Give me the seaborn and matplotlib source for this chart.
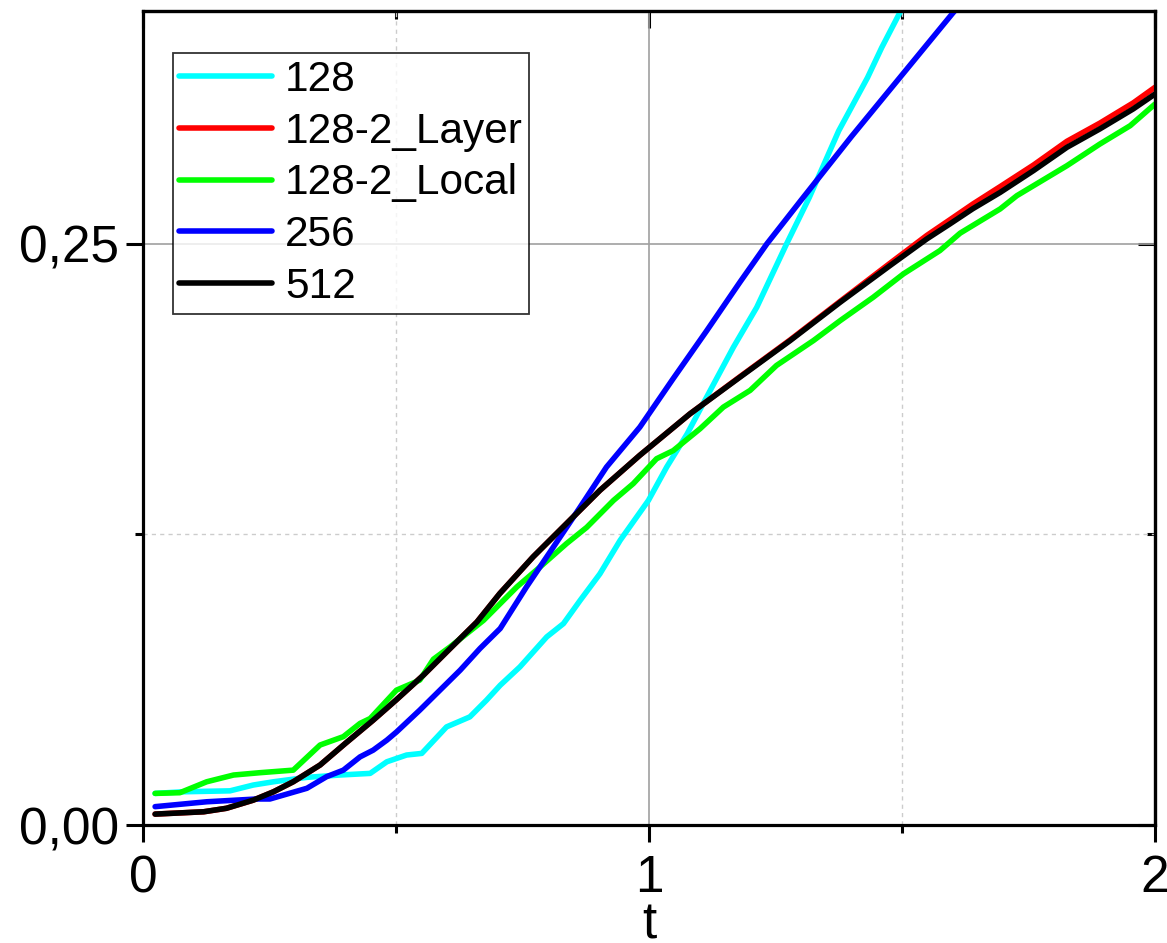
import numpy as np
import pandas as pd
import matplotlib
matplotlib.use("Agg")
import matplotlib.pyplot as plt
from matplotlib.ticker import FixedLocator, FuncFormatter
import seaborn as sns

# --- data ---
t_128 = [0.024, 0.08, 0.172, 0.218, 0.258, 0.324, 0.389, 0.449, 0.482, 0.521, 0.551,
         0.60, 0.646, 0.679, 0.706, 0.745, 0.798, 0.831, 0.864, 0.903, 0.943, 0.999,
         1.035, 1.075, 1.114, 1.167, 1.213, 1.272, 1.317, 1.375, 1.432, 1.46, 1.496, 1.51]
y_128 = [0.0136, 0.0143, 0.0147, 0.0172, 0.0186, 0.0205, 0.0215, 0.0222, 0.0272, 0.0301, 0.0308,
         0.0422, 0.0465, 0.0537, 0.0601, 0.068, 0.0809, 0.0866, 0.0966, 0.108, 0.1224, 0.1396,
         0.1539, 0.168, 0.184, 0.2055, 0.2226, 0.2499, 0.2699, 0.2985, 0.3214, 0.3343, 0.3494, 0.356]

t_512 = [0.024, 0.12, 0.165, 0.218, 0.258, 0.297, 0.35, 0.40, 0.455, 0.50, 0.554, 0.607,
         0.66, 0.705, 0.771, 0.837, 0.903, 0.982, 1.081, 1.18, 1.279, 1.378, 1.476, 1.549,
         1.595, 1.64, 1.694, 1.76, 1.826, 1.891, 1.957, 2.0]
y_512 = [0.0047, 0.0057, 0.0072, 0.0107, 0.0143, 0.0186, 0.0258, 0.0351, 0.0451, 0.0537, 0.0644, 0.0759,
         0.0873, 0.0995, 0.1153, 0.1296, 0.1439, 0.159, 0.1768, 0.1926, 0.2083, 0.2248, 0.2405, 0.252,
         0.2585, 0.265, 0.272, 0.2814, 0.2914, 0.2993, 0.3079, 0.3143]

t_layer = t_512
y_layer = [0.0047, 0.0057, 0.0072, 0.0107, 0.0143, 0.0186, 0.0258, 0.0351, 0.0451, 0.0537, 0.0644, 0.0759,
           0.0873, 0.0995, 0.1153, 0.1296, 0.1439, 0.159, 0.1768, 0.1928, 0.2086, 0.2252, 0.2415, 0.2535,
           0.2603, 0.267, 0.2745, 0.2838, 0.294, 0.3018, 0.3105, 0.3172]

t_local = [0.024, 0.073, 0.126, 0.179, 0.231, 0.297, 0.35, 0.396, 0.429, 0.449, 0.501, 0.547,
           0.574, 0.607, 0.673, 0.739, 0.785, 0.837, 0.877, 0.93, 0.969, 1.015, 1.048, 1.101,
           1.147, 1.20, 1.252, 1.325, 1.378, 1.443, 1.503, 1.575, 1.615, 1.694, 1.727, 1.826,
           1.891, 1.951, 2.0]
y_local = [0.0136, 0.0139, 0.0186, 0.0215, 0.0225, 0.0236, 0.0344, 0.038, 0.0437, 0.0458, 0.058, 0.0623,
           0.0713, 0.0766, 0.088, 0.1024, 0.111, 0.121, 0.128, 0.1396, 0.1468, 0.1575, 0.161, 0.1704,
           0.1797, 0.1869, 0.1976, 0.2083, 0.2169, 0.2269, 0.237, 0.247, 0.2545, 0.2649, 0.2706, 0.2835,
           0.2928, 0.3007, 0.31]

t_256 = [0.024, 0.126, 0.225, 0.251, 0.324, 0.363, 0.396, 0.429, 0.455, 0.482, 0.501, 0.547,
         0.587, 0.627, 0.666, 0.706, 0.758, 0.811, 0.864, 0.916, 0.982, 1.048, 1.114, 1.18,
         1.233, 1.30, 1.40, 1.50, 1.60, 1.62]
y_256 = [0.0079, 0.010, 0.0112, 0.0112, 0.0158, 0.0208, 0.0236, 0.0293, 0.0322, 0.0365, 0.040, 0.0494,
         0.058, 0.0666, 0.0759, 0.0845, 0.1024, 0.1195, 0.1367, 0.1539, 0.1711, 0.192, 0.2125, 0.2335,
         0.2499, 0.2685, 0.296, 0.3225, 0.349, 0.354]

labels = ["128", "128-2_Layer", "128-2_Local", "256", "512"]
colors = ["#00FFFF", "#FF0000", "#00FF00", "#0000FF", "#000000"]

series = [(t_128, y_128), (t_layer, y_layer), (t_local, y_local), (t_256, y_256), (t_512, y_512)]

sns.set_style("ticks")
plt.rcParams['font.family'] = ['Liberation Sans', 'DejaVu Sans']
plt.rcParams['text.color'] = 'black'
plt.rcParams['axes.labelcolor'] = 'black'
plt.rcParams['xtick.color'] = 'black'
plt.rcParams['ytick.color'] = 'black'

fig = plt.figure(figsize=(11.67, 9.43), dpi=100)
ax = fig.add_axes([0.1225, 0.1251, 0.8672, 0.8632])

for (tt, yy), lab, col in zip(series, labels, colors):
    sns.lineplot(x=tt, y=yy, ax=ax, color=col, label=lab, linewidth=4.0,
                 sort=False, legend=False)

ax.set_xlim(0, 2)
ax.set_ylim(0, 0.35)

# grid: solid at majors, dotted at minors
ax.xaxis.set_major_locator(FixedLocator([0, 1, 2]))
ax.xaxis.set_minor_locator(FixedLocator([0.5, 1.5]))
ax.yaxis.set_major_locator(FixedLocator([0, 0.25]))
ax.yaxis.set_minor_locator(FixedLocator([0.125]))
ax.yaxis.set_major_formatter(FuncFormatter(lambda v, p: f"{v:.2f}".replace(".", ",")))
ax.grid(which='major', color='#a0a0a0', lw=1.2, ls='-')
ax.grid(which='minor', color='#cccccc', lw=1.0, ls=(0, (3, 3)))
ax.set_axisbelow(True)

ax.tick_params(which='major', direction='out', length=12, width=2.2, labelsize=37)
ax.tick_params(which='minor', direction='out', length=6, width=2.2)
ax.tick_params(axis='x', which='major', pad=9)
ax.tick_params(axis='y', which='major', pad=5)
for s in ax.spines.values():
    s.set_linewidth(2.3)
    s.set_color('black')

# inward ticks on top and right
top = ax.secondary_xaxis('top')
top.xaxis.set_major_locator(FixedLocator([0, 1, 2]))
top.xaxis.set_minor_locator(FixedLocator([0.5, 1.5]))
top.tick_params(which='major', direction='in', length=12, width=2.2, labeltop=False)
top.tick_params(which='minor', direction='in', length=6, width=2.2)
top.spines['top'].set_linewidth(2.3)
right = ax.secondary_yaxis('right')
right.yaxis.set_major_locator(FixedLocator([0, 0.25]))
right.yaxis.set_minor_locator(FixedLocator([0.125]))
right.tick_params(which='major', direction='in', length=12, width=2.2, labelright=False)
right.tick_params(which='minor', direction='in', length=6, width=2.2)
right.spines['right'].set_linewidth(2.3)

ax.set_xlabel("t", fontsize=37, labelpad=-2)
ax.set_ylabel("")

leg = ax.legend(loc='upper left', bbox_to_anchor=(0.0296, 0.948), borderaxespad=0,
                fontsize=30.5, frameon=True, fancybox=False, handlelength=2.2,
                handletextpad=0.3, labelspacing=0.28, borderpad=0.15)
leg.get_frame().set_edgecolor('black')
leg.get_frame().set_linewidth(1.3)
for h in leg.get_lines():
    h.set_linewidth(4)

fig.savefig("out.png", dpi=100)
